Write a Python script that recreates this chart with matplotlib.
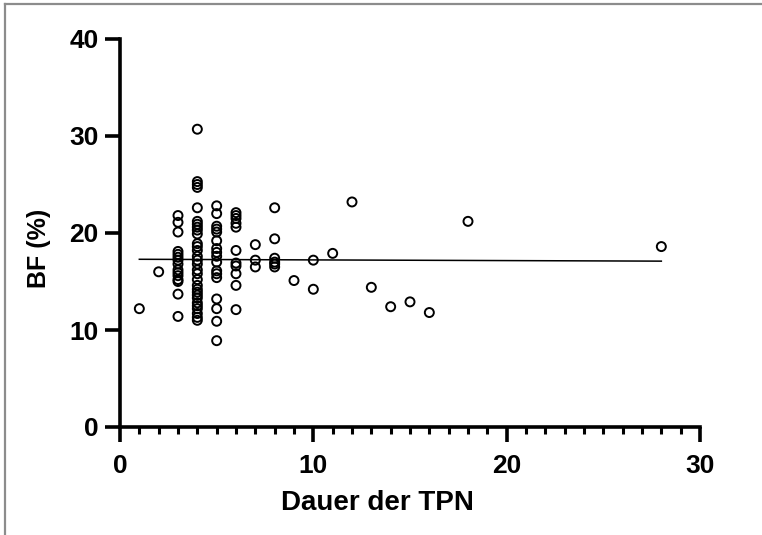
import matplotlib
matplotlib.use("Agg")
import matplotlib.pyplot as plt
import numpy as np
from matplotlib.lines import Line2D
from matplotlib.ticker import MultipleLocator

# Dauer der TPN (Tage) und Körperfett BF (%)
dauer_tpn = (
    [1, 2]
    + [3] * 15
    + [4] * 30
    + [5] * 17
    + [6] * 11
    + [7] * 3
    + [8] * 6
    + [9, 10, 10, 11, 12, 13, 14, 15, 16, 18, 28]
)
bf_prozent = (
    [12.2, 16.0]
    # Tag 3
    + [21.8, 21.1, 20.1, 18.1, 17.8, 17.5, 17.2, 16.8, 16.2, 15.9, 15.6, 15.2, 15.0, 13.7, 11.4]
    # Tag 4
    + [30.7, 25.3, 25.0, 24.7, 22.6, 21.2, 20.9, 20.6, 20.3, 19.9, 18.9, 18.6, 18.2, 17.6, 17.2,
       16.8, 16.2, 15.8, 15.2, 14.6, 14.2, 13.9, 13.6, 13.3, 12.8, 12.5, 12.2, 11.7, 11.3, 11.0]
    # Tag 5
    + [22.8, 22.0, 20.7, 20.4, 20.1, 19.2, 18.4, 18.0, 17.6, 17.0, 16.1, 15.8, 15.4, 13.2, 12.2,
       10.9, 8.9]
    # Tag 6
    + [22.1, 21.8, 21.5, 21.0, 20.6, 18.2, 16.9, 16.6, 15.8, 14.6, 12.1]
    # Tag 7, 8
    + [18.8, 17.2, 16.5]
    + [22.6, 19.4, 17.4, 17.0, 16.8, 16.5]
    # Tag 9 .. 28
    + [15.1, 17.2, 14.2, 17.9, 23.2, 14.4, 12.4, 12.9, 11.8, 21.2, 18.6]
)

x_ticks = [0, 10, 20, 30]
y_ticks = [0, 10, 20, 30, 40]

x = np.array(dauer_tpn, dtype=float)
y = np.array(bf_prozent, dtype=float)

plt.rcParams["font.family"] = ["Liberation Sans", "DejaVu Sans"]

fig = plt.figure(figsize=(7.62, 5.35), dpi=100)
ax = fig.add_axes([120 / 762, 1 - 427 / 535, 580 / 762, 388 / 535])

ax.scatter(x, y, s=42, facecolors="none", edgecolors="black", linewidths=1.4,
           zorder=3, clip_on=False)

# lineare Regression
slope, intercept = np.polyfit(x, y, 1)
xl = np.array([x.min(), x.max()])
ax.plot(xl, slope * xl + intercept, color="black", lw=1.1, zorder=2)

ax.set_xlim(0, 30)
ax.set_ylim(0, 40)
ax.set_xticks(x_ticks)
ax.set_yticks(y_ticks)
ax.xaxis.set_minor_locator(MultipleLocator(1))

for side in ("top", "right"):
    ax.spines[side].set_visible(False)
for side in ("left", "bottom"):
    ax.spines[side].set_linewidth(2.6)

ax.tick_params(axis="both", which="major", width=2.6, labelsize=19, direction="out")
ax.tick_params(axis="x", which="major", length=10.5, pad=9)
ax.tick_params(axis="x", which="minor", length=5, width=2.2, direction="out")
ax.tick_params(axis="y", which="major", length=10.5, pad=5)
for lab in ax.get_xticklabels() + ax.get_yticklabels():
    lab.set_fontweight("bold")

ax.set_xlabel("Dauer der TPN", fontsize=20, fontweight="bold")
ax.set_ylabel("BF (%)", fontsize=18, fontweight="bold")
ax.xaxis.set_label_coords((377 - 120) / 580, (427 - 490) / 388)
ax.yaxis.set_label_coords((51 - 120) / 580, (427 - 248) / 388)

# grauer Rahmen oben und links (Bildausschnitt)
fig.add_artist(Line2D([5 / 762, 1], [1 - 4 / 535, 1 - 4 / 535],
                      transform=fig.transFigure, color="#8c8c8c", lw=1.6))
fig.add_artist(Line2D([5 / 762, 5 / 762], [0, 1 - 4 / 535],
                      transform=fig.transFigure, color="#8c8c8c", lw=1.6))

fig.savefig("out.png", dpi=100)
